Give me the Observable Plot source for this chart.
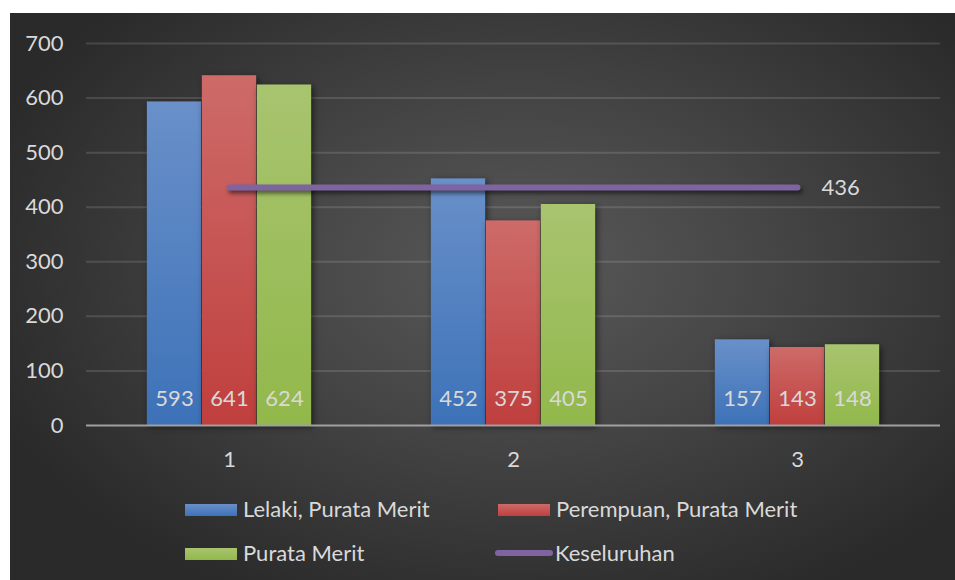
<!DOCTYPE html>
<html>
<head>
<meta charset="utf-8">
<script src="https://cdn.jsdelivr.net/npm/d3@7"></script>
<script src="https://cdn.jsdelivr.net/npm/@observablehq/plot@0.6"></script>
<style>
  html, body { margin: 0; padding: 0; background: #ffffff; }
  #chart {
    position: absolute; left: 10px; top: 13px; width: 945px; height: 567px;
    background: radial-gradient(ellipse 60% 65% at 54% 45%, #595959 0%, #454545 45%, #2a2a2a 100%);
    font-family: Lato, "Open Sans", sans-serif; overflow: hidden;
  }
  #chart svg { position: absolute; left: 0; top: 0; }
  g[aria-label="bar"] rect { filter: drop-shadow(2px 2px 3px rgba(0,0,0,0.55)); }
  g[aria-label="line"] path { filter: drop-shadow(2px 3px 2px rgba(0,0,0,0.55)); }
  .leg { position: absolute; color: #d9d9d9; font-size: 22px; line-height: 24px; white-space: nowrap; }
  .sw { position: absolute; }
</style>
</head>
<body>
<div id="chart"></div>
<script>
const categories = ["1", "2", "3"];
const seriesNames = ["Lelaki, Purata Merit", "Perempuan, Purata Merit", "Purata Merit", "Keseluruhan"];
const lelaki = [593, 452, 157];
const perempuan = [641, 375, 143];
const purata = [624, 405, 148];
const keseluruhan = [436, 436, 436];
const yTicks = [0, 100, 200, 300, 400, 500, 600, 700];

const rows = (vals) => categories.map((c, i) => ({c, v: vals[i]}));
const W = 945, H = 470, ML = 76, MR = 15, MT = 30, MB = 58;
const band = (W - ML - MR) / categories.length;
const bw = 55;
const half = band / 2;

const textStyle = {fill: "#d9d9d9", fontSize: 22, fontFamily: "Lato, 'Open Sans', sans-serif", lineAnchor: "middle"};

const svg = Plot.plot({
  width: W, height: H,
  marginLeft: ML, marginRight: MR, marginTop: MT, marginBottom: MB,
  style: {background: "transparent", color: "#d9d9d9", fontFamily: "Lato, 'Open Sans', sans-serif", fontSize: "22px", overflow: "visible"},
  x: {domain: categories, padding: 0, label: null},
  y: {domain: [0, 700], label: null},
  marks: [
    Plot.ruleY(yTicks.filter(d => d > 0), {stroke: "#ffffff", strokeOpacity: 0.13, strokeWidth: 2}),
    Plot.barY(rows(lelaki), {x: "c", y: "v", fill: "url(#gBlue)", insetLeft: half - 1.5 * bw, insetRight: half + 0.5 * bw}),
    Plot.barY(rows(perempuan), {x: "c", y: "v", fill: "url(#gRed)", insetLeft: half - 0.5 * bw, insetRight: half - 0.5 * bw}),
    Plot.barY(rows(purata), {x: "c", y: "v", fill: "url(#gGreen)", insetLeft: half + 0.5 * bw, insetRight: half - 1.5 * bw}),
    Plot.ruleY([0], {stroke: "#a0a0a0", strokeWidth: 2}),
    Plot.lineY(rows(keseluruhan), {x: "c", y: "v", stroke: "#8064a2", strokeWidth: 6, strokeLinecap: "round"}),
    Plot.text(rows(keseluruhan).slice(-1), {x: "c", y: "v", text: d => String(d.v), dx: 24, textAnchor: "start", ...textStyle}),
    Plot.text(rows(lelaki), {x: "c", y: () => 0, text: d => String(d.v), dx: -bw, dy: -27, ...textStyle}),
    Plot.text(rows(perempuan), {x: "c", y: () => 0, text: d => String(d.v), dx: 0, dy: -27, ...textStyle}),
    Plot.text(rows(purata), {x: "c", y: () => 0, text: d => String(d.v), dx: bw, dy: -27, ...textStyle}),
    Plot.axisY({ticks: yTicks, tickSize: 0, tickPadding: 23, tickFormat: d => String(d), fill: "#d9d9d9", fontSize: 22}),
    Plot.axisX({tickSize: 0, tickPadding: 26, fill: "#d9d9d9", fontSize: 22})
  ]
});

const defs = document.createElementNS("http://www.w3.org/2000/svg", "defs");
defs.innerHTML = `
  <linearGradient id="gBlue" x1="0" y1="0" x2="0" y2="1"><stop offset="0" stop-color="#6990c9"/><stop offset="1" stop-color="#3d72b8"/></linearGradient>
  <linearGradient id="gRed" x1="0" y1="0" x2="0" y2="1"><stop offset="0" stop-color="#cd6b69"/><stop offset="1" stop-color="#bf3f3d"/></linearGradient>
  <linearGradient id="gGreen" x1="0" y1="0" x2="0" y2="1"><stop offset="0" stop-color="#a8c46f"/><stop offset="1" stop-color="#92b84b"/></linearGradient>`;
svg.insertBefore(defs, svg.firstChild);

const chart = document.getElementById("chart");
chart.appendChild(svg);

// legend
const legendItems = [
  {name: seriesNames[0], type: "rect", fill: "linear-gradient(#6990c9,#3d72b8)", x: 175, y: 496},
  {name: seriesNames[1], type: "rect", fill: "linear-gradient(#cd6b69,#bf3f3d)", x: 488, y: 496},
  {name: seriesNames[2], type: "rect", fill: "linear-gradient(#a8c46f,#92b84b)", x: 175, y: 540},
  {name: seriesNames[3], type: "line", fill: "#8064a2", x: 485, y: 540}
];
for (const it of legendItems) {
  const sw = document.createElement("div");
  sw.className = "sw";
  if (it.type === "rect") {
    sw.style.cssText = `left:${it.x}px;top:${it.y - 5}px;width:52px;height:12px;background:${it.fill};`;
  } else {
    sw.style.cssText = `left:${it.x}px;top:${it.y - 3}px;width:58px;height:6px;border-radius:3px;background:${it.fill};`;
  }
  chart.appendChild(sw);
  const t = document.createElement("div");
  t.className = "leg";
  t.textContent = it.name;
  t.style.left = (it.x + (it.type === "rect" ? 58 : 60)) + "px";
  t.style.top = (it.y - 12) + "px";
  chart.appendChild(t);
}
</script>
</body>
</html>
